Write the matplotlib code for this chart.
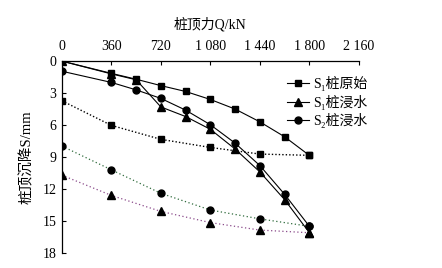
import numpy as np
import matplotlib.pyplot as plt
from matplotlib.lines import Line2D

plt.rcParams['font.family'] = ['Liberation Serif', 'Noto Sans CJK SC', 'DejaVu Sans']
plt.rcParams['font.size'] = 10

# load steps (kN)
q_full = [0, 360, 540, 720, 900, 1080, 1260, 1440, 1620, 1800]
q_dot = [0, 360, 720, 1080, 1440, 1800]

# measured settlement (mm)
s1_orig = [0, 1.15, 1.7, 2.3, 2.85, 3.6, 4.5, 5.7, 7.1, 8.85]
s1_soak = [0, 1.2, 1.75, 4.3, 5.2, 6.4, 8.25, 10.4, 13.0, 16.1]
s2_soak = [0.95, 2.0, 2.7, 3.5, 4.6, 5.97, 7.7, 9.8, 12.5, 15.5]

# dotted curves
s1_orig_dot = [3.72, 6.03, 7.34, 8.1, 8.72, 8.84]
s2_soak_dot = [7.97, 10.2, 12.4, 13.97, 14.8, 15.5]
s1_soak_dot = [10.7, 12.6, 14.1, 15.15, 15.85, 16.1]

xticks = [0, 360, 720, 1080, 1440, 1800, 2160]
xlabels = ['0', '360', '720', '1 080', '1 440', '1 800', '2 160']
yticks = [0, 3, 6, 9, 12, 15, 18]

fig = plt.figure(figsize=(4.42, 2.68), dpi=100)
ax = fig.add_axes([0.140, 0.056, 0.672, 0.716])

ms = 5
ax.plot(q_dot, s1_orig_dot, color='black', ls=(0, (1, 1.5)), lw=1.0,
        marker='s', ms=ms, mfc='black', mec='black')
ax.plot(q_dot, s2_soak_dot, color='#2f6b3c', ls=(0, (1, 2)), lw=0.9,
        marker='o', ms=ms, mfc='black', mec='black')
ax.plot(q_dot, s1_soak_dot, color='#8a4a8a', ls=(0, (1, 2)), lw=0.9,
        marker='^', ms=ms + 1, mfc='black', mec='black')

ax.plot(q_full, s1_orig, color='black', lw=0.8, marker='s', ms=ms)
ax.plot(q_full, s1_soak, color='black', lw=0.8, marker='^', ms=ms + 1)
ax.plot(q_full, s2_soak, color='black', lw=0.8, marker='o', ms=ms)

ax.set_xlim(0, 2160)
ax.set_ylim(18, 0)
ax.xaxis.tick_top()
ax.xaxis.set_label_position('top')
ax.set_xticks(xticks)
ax.set_xticklabels(xlabels)
ax.set_yticks(yticks)
ax.tick_params(direction='in', length=3, width=0.8, labelsize=10, pad=4)
ax.tick_params(axis='x', pad=6)
ax.spines['right'].set_visible(False)
ax.spines['bottom'].set_visible(False)
for sp in ['top', 'left']:
    ax.spines[sp].set_linewidth(0.9)

ax.set_xlabel('桩顶力Q/kN', fontsize=10, labelpad=8)
ax.set_ylabel('桩顶沉降S/mm', fontsize=10.5, labelpad=6)

handles = [
    Line2D([], [], color='black', lw=0.8, marker='s', ms=ms),
    Line2D([], [], color='black', lw=0.8, marker='^', ms=ms + 1),
    Line2D([], [], color='black', lw=0.8, marker='o', ms=ms),
]
labels = ['S₁桩原始', 'S₁桩浸水', 'S₂桩浸水']
ax.legend(handles, labels, loc='upper left', bbox_to_anchor=(0.74, 0.95),
          frameon=False, fontsize=10, handlelength=1.6, handletextpad=0.3,
          labelspacing=0.25, borderaxespad=0)

fig.savefig('out.png', dpi=100)
